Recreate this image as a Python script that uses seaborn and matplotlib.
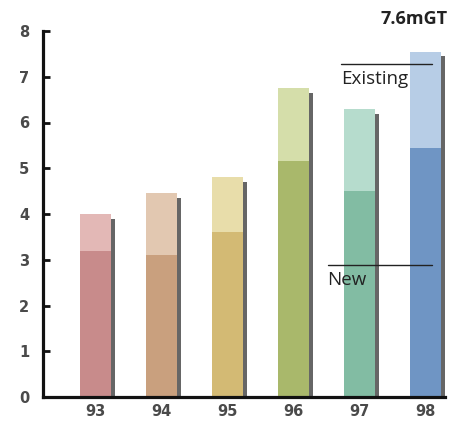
import pandas as pd
import matplotlib.pyplot as plt
import matplotlib.patheffects as pe
import seaborn as sns

# Data
years = ["93", "94", "95", "96", "97", "98"]
new_capacity = [3.2, 3.1, 3.6, 5.15, 4.5, 5.45]
total_capacity = [4.0, 4.45, 4.8, 6.75, 6.3, 7.55]
yticks = [0, 1, 2, 3, 4, 5, 6, 7, 8]

existing_colors = ["#e3b8b6", "#e2c8b1", "#e8ddaa", "#d5deaa", "#b6dccd", "#b7cde6"]
new_colors = ["#c88b8b", "#c9a07e", "#d3ba74", "#a9b86b", "#82bca3", "#6f95c4"]

df = pd.DataFrame({"year": years, "new": new_capacity, "total": total_capacity})

sns.set_theme(style="white")
plt.rcParams["font.family"] = ["Open Sans", "DejaVu Sans"]

fig = plt.figure(figsize=(4.6, 4.25), dpi=100)
ax = fig.add_axes([43 / 460, 28 / 425, 402 / 460, 366 / 425])

# full-height bars (existing on top), then new bars overlaid from zero
sns.barplot(data=df, x="year", y="total", hue="year", palette=existing_colors,
            width=0.47, legend=False, ax=ax, saturation=1, linewidth=0)
n = len(ax.patches)
sns.barplot(data=df, x="year", y="new", hue="year", palette=new_colors,
            width=0.47, legend=False, ax=ax, saturation=1, linewidth=0)

shadow = [pe.SimplePatchShadow(offset=(3, -3.5), shadow_rgbFace="0.2", alpha=0.75), pe.Normal()]
for p in ax.patches[:n]:
    p.set_path_effects(shadow)

ax.set_ylim(0, 8)
ax.set_xlim(-0.79, 5.3)
ax.set_yticks(yticks)
ax.set_xlabel("")
ax.set_ylabel("")

for side in ["top", "right"]:
    ax.spines[side].set_visible(False)
for side in ["left", "bottom"]:
    ax.spines[side].set_color("#111111")
    ax.spines[side].set_linewidth(2.3)
    ax.spines[side].set_zorder(5)

ax.tick_params(axis="y", direction="in", length=5, width=2, color="#111111",
               labelsize=10.5, labelcolor="#4a4a4a", pad=10, left=True)
ax.tick_params(axis="x", length=0, labelsize=10.5, labelcolor="#4a4a4a", pad=5)
for lbl in ax.get_xticklabels() + ax.get_yticklabels():
    lbl.set_fontweight("bold")
    lbl.set_family(["DejaVu Sans"])

# annotations
ax.plot([3.73, 5.1], [7.28, 7.28], color="#222222", lw=1, clip_on=False)
ax.text(3.72, 7.15, "Existing", fontsize=13.5, color="#222222", va="top", ha="left")
ax.plot([3.53, 5.1], [2.89, 2.89], color="#222222", lw=1, clip_on=False)
ax.text(3.52, 2.76, "New", fontsize=13.5, color="#222222", va="top", ha="left")

fig.text(448 / 460, 1 - 19 / 425, "7.6mGT", fontsize=13, fontweight="bold",
         color="#222222", ha="right", va="center")

fig.savefig("out.png", dpi=100, facecolor="white")
